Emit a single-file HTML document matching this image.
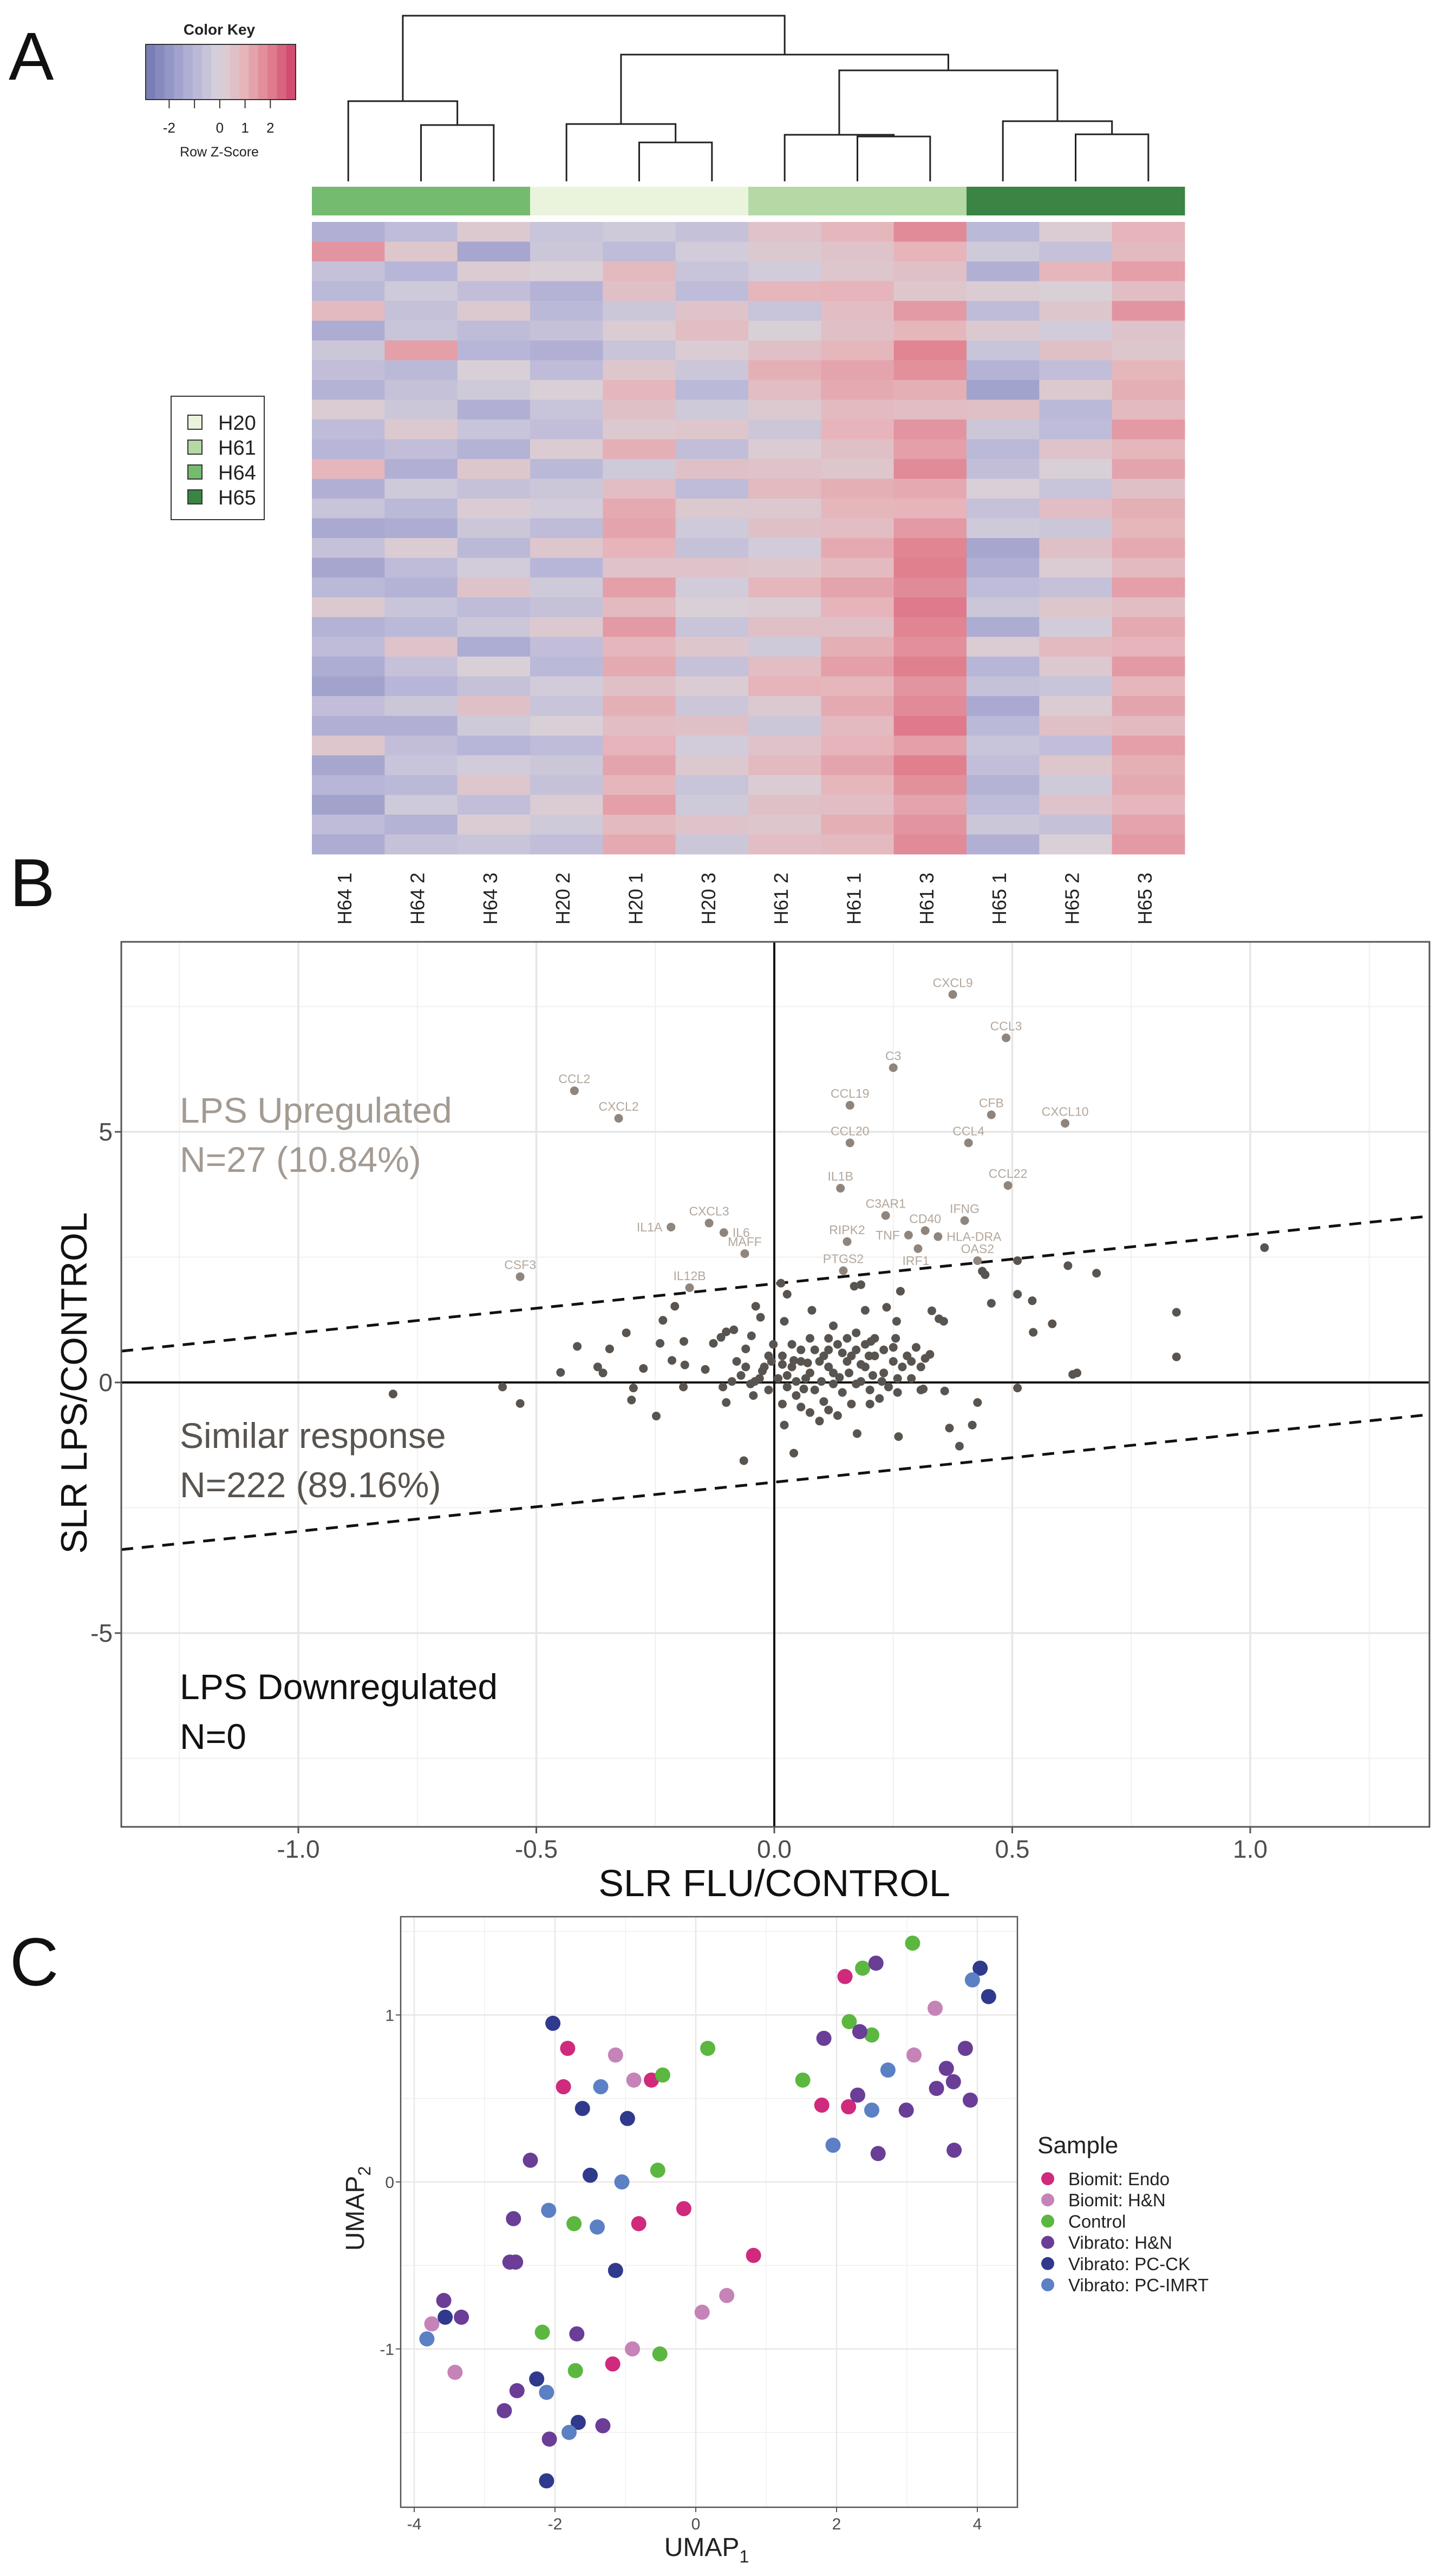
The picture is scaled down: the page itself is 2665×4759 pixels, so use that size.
<!DOCTYPE html>
<html><head><meta charset="utf-8"><title>Figure</title>
<style>
html,body{margin:0;padding:0;background:#fff;}
svg{display:block;font-family:"Liberation Sans",Arial,sans-serif;}
</style></head>
<body>
<svg id="fig" xmlns="http://www.w3.org/2000/svg" width="2665" height="4759" viewBox="0 0 2665 4759">
<rect x="0" y="0" width="2665" height="4759" fill="#fff"/>
<text x="16" y="147" font-size="125" fill="#111">A</text>
<text x="18" y="1674" font-size="125" fill="#111">B</text>
<text x="18" y="3668" font-size="125" fill="#111">C</text>
<g id="pa"></g>
<g id="pb"></g>
<g id="pc"></g>
</svg>
<script>
// ---------- Panel A data ----------
const sampleNames = ["H64 1","H64 2","H64 3","H20 2","H20 1","H20 3","H61 2","H61 1","H61 3","H65 1","H65 2","H65 3"];
const sampleGroups = ["H64","H64","H64","H20","H20","H20","H61","H61","H61","H65","H65","H65"];
const groupNames = ["H20","H61","H64","H65"];
const groupColors = {"H20":"#eaf4dd","H61":"#b4d9a5","H64":"#74bb70","H65":"#3a8444"};
// merges: [childA, childB, height]; leaves 0..11, merges referenced as 12+index
const merges = [[1,2,3.4],[0,12,4.84],[4,5,2.35],[3,14,3.46],[7,8,2.71],[6,16,2.81],[10,11,2.84],[9,18,3.63],[17,19,6.7],[15,20,7.65],[13,21,10]];
const keyTicks = [-2,-1,0,1,2];
const keyTickLabels = ["-2","","0","1","2"];
const zrows = [
[-1.2,-0.8,0.3,-0.5,-0.3,-0.6,0.5,0.9,1.8,-0.9,0.2,1.0],
[1.6,0.4,-1.5,-0.4,-0.8,-0.2,0.3,0.5,1.0,-0.3,-0.6,0.8],
[-0.6,-1.0,0.2,0.1,0.8,-0.5,-0.2,0.4,0.6,-1.2,0.9,1.4],
[-0.9,-0.3,-0.7,-1.1,0.6,-0.8,0.9,1.0,0.4,0.2,0.1,0.7],
[0.8,-0.6,0.3,-0.9,-0.4,0.5,-0.5,0.7,1.5,-0.8,0.4,1.6],
[-1.3,-0.5,-0.8,-0.6,0.2,0.7,0.1,0.6,0.9,0.3,-0.2,0.5],
[-0.4,1.4,-1.0,-1.2,-0.5,0.2,0.6,0.9,1.9,-0.5,0.6,0.4],
[-0.7,-0.9,0.1,-0.8,0.4,-0.4,1.1,1.3,1.7,-1.1,-0.7,0.9],
[-1.1,-0.6,-0.3,0.1,0.9,-0.9,0.7,1.2,1.1,-1.6,0.3,1.1],
[0.2,-0.4,-1.2,-0.5,0.6,-0.3,0.3,0.8,0.7,0.6,-0.9,0.8],
[-0.8,0.3,-0.5,-0.7,0.3,0.4,-0.4,1.0,1.6,-0.4,-0.8,1.5],
[-1.0,-0.7,-1.1,0.2,1.1,-0.7,0.2,0.6,1.4,-0.9,0.5,0.9],
[0.9,-1.2,0.4,-0.9,-0.3,0.6,0.5,0.4,1.8,-0.7,0.1,1.3],
[-1.2,-0.3,-0.6,-0.4,0.7,-0.8,0.8,1.1,1.2,0.1,-0.5,0.6],
[-0.5,-0.9,0.2,-0.2,1.2,0.3,0.3,0.9,1.0,-0.6,0.7,1.1],
[-1.4,-1.3,-0.4,-0.8,1.3,-0.3,0.6,0.7,1.5,-0.3,-0.4,0.9],
[-0.6,0.2,-0.9,0.4,1.0,-0.6,-0.2,1.2,1.9,-1.5,0.6,1.2],
[-1.5,-0.8,-0.2,-1.0,0.5,0.5,0.4,0.8,2.0,-1.2,0.2,0.8],
[-0.9,-1.1,0.5,-0.3,1.4,-0.2,0.9,1.3,1.8,-0.8,-0.6,1.4],
[0.3,-0.5,-0.8,-0.6,0.8,0.1,0.2,1.0,2.1,-0.4,0.4,0.7],
[-1.1,-0.9,-0.4,0.3,1.5,-0.5,0.6,0.6,1.9,-1.3,-0.2,1.2],
[-0.8,0.5,-1.3,-0.7,0.9,0.4,-0.3,1.1,1.7,0.2,0.8,1.0],
[-1.3,-0.6,0.1,-0.9,1.2,-0.6,0.7,1.4,2.0,-1.0,0.3,1.5],
[-1.6,-1.0,-0.6,-0.2,0.6,0.2,1.0,0.9,1.6,-0.6,-0.5,0.9],
[-0.7,-0.4,0.6,-0.5,1.1,-0.4,0.3,1.2,1.8,-1.4,0.2,1.3],
[-1.2,-1.2,-0.3,0.1,0.7,0.6,-0.4,0.8,2.1,-0.9,0.6,0.8],
[0.4,-0.7,-1.0,-0.8,1.0,-0.2,0.5,1.0,1.4,-0.5,-0.7,1.4],
[-1.5,-0.5,-0.2,-0.4,1.3,0.3,0.8,1.3,2.0,-0.7,0.4,1.1],
[-1.0,-0.9,0.4,-0.6,0.9,-0.5,0.2,0.9,1.7,-1.1,-0.3,1.2],
[-1.6,-0.3,-0.7,0.2,1.4,-0.3,0.6,0.7,1.3,-0.8,0.5,0.9],
[-0.8,-1.1,0.2,-0.3,0.8,0.5,0.4,1.1,1.6,-0.4,-0.6,1.3],
[-1.3,-0.6,-0.5,-0.7,1.2,-0.4,0.7,0.8,1.8,-1.2,0.1,1.5]
];

// ---------- Panel B data ----------
const geneNames = ["CXCL9","CCL3","C3","CCL2","CXCL2","CCL19","CFB","CXCL10","CCL20","CCL4","IL1B","CCL22","C3AR1","IFNG","CXCL3","IL1A","IL6","CD40","RIPK2","TNF","HLA-DRA","MAFF","IRF1","OAS2","PTGS2","CSF3","IL12B"];
const geneFlu = [0.375,0.487,0.25,-0.42,-0.327,0.159,0.456,0.611,0.159,0.408,0.139,0.491,0.234,0.40,-0.137,-0.217,-0.106,0.317,0.153,0.282,0.344,-0.062,0.302,0.427,0.145,-0.534,-0.178];
const geneLps = [7.74,6.875,6.28,5.82,5.27,5.53,5.34,5.17,4.78,4.78,3.875,3.93,3.33,3.23,3.18,3.10,2.99,3.03,2.81,2.94,2.91,2.57,2.67,2.43,2.23,2.11,1.89];
const geneLabelSide = ["a","a","a","a","a","a","a","a","a","a","a","a","a","a","a","l","r","a","a","l","r","a","b","a","a","a","a"];
const otherFlu = [1.03,0.845,0.845,0.677,0.617,0.511,0.443,0.437,0.511,0.542,0.584,0.544,0.456,0.627,0.636,0.511,0.427,0.416,0.368,0.389,0.261,0.358,0.313,0.327,0.346,0.356,0.331,0.265,0.236,0.257,0.255,0.191,0.203,0.182,0.168,0.079,0.124,0.174,0.041,0.021,-0.064,-0.248,-0.300,-0.296,-0.275,-0.311,-0.234,-0.209,-0.240,-0.190,-0.346,-0.414,-0.449,-0.371,-0.360,-0.571,-0.534,-0.801,-0.039,-0.029,0.027,0.021,0.014,-0.101,-0.085,-0.060,-0.128,-0.112,-0.048,-0.188,-0.145,-0.215,-0.191,-0.101,-0.044,
0.017,0.037,0.056,0.075,0.085,0.104,0.114,0.133,0.153,0.172,0.191,0.211,0.230,0.250,0.269,0.288,0.008,0.027,0.046,0.066,0.085,0.104,0.124,0.143,0.162,0.182,0.201,0.221,0.240,0.259,-0.021,-0.031,-0.050,-0.070,-0.089,-0.108,-0.079,-0.060,-0.012,-0.002,0.037,0.056,0.095,0.114,0.153,0.172,0.191,0.211,0.230,0.250,0.075,0.095,0.056,0.114,0.133,0.201,0.308,0.317,0.279,0.298,0.075,0.046,0.017,-0.012,-0.041,0.027,0.017,-0.025,-0.006,0.207,0.226,0.137,0.157,0.172,0.124,0.099,0.062,0.041,0.199,0.259,0.288,0.308,0.162,0.182,0.143,0.070,0.114];
const otherLps = [2.69,1.40,0.51,2.18,2.33,2.43,2.15,2.22,1.76,1.63,1.17,1.00,1.58,0.16,0.19,-0.11,-0.40,-0.85,-0.91,-1.27,-1.08,-0.17,-0.13,0.56,1.27,1.22,1.43,1.82,1.50,1.22,0.88,1.44,0.82,1.95,1.92,1.44,1.13,-1.02,-1.41,-0.85,-1.56,-0.67,-0.35,-0.11,0.28,0.99,1.24,1.52,0.78,0.82,0.67,0.72,0.20,0.31,0.19,-0.09,-0.42,-0.23,1.52,1.30,1.76,1.22,1.98,1.01,1.05,0.67,0.78,0.90,0.93,0.35,0.26,0.44,-0.09,-0.40,-0.26,
0.53,0.31,0.42,0.88,0.65,0.53,0.31,0.76,0.42,0.65,0.31,0.53,0.19,0.42,0.31,0.08,0.08,-0.09,-0.26,0.08,-0.15,-0.38,-0.03,-0.20,-0.43,0.02,-0.15,-0.32,-0.09,-0.20,0.31,0.08,-0.03,0.14,0.02,-0.09,0.42,0.31,0.53,0.76,0.76,0.65,0.42,0.88,0.88,0.99,0.76,0.88,0.65,0.70,-0.60,-0.77,-0.49,-0.55,-0.66,-0.43,0.31,0.48,0.53,0.70,0.19,0.02,-0.43,-0.15,0.02,0.14,0.36,0.23,0.42,0.14,0.02,0.10,0.19,-0.03,0.19,0.02,-0.13,0.44,0.53,0.08,0.42,-0.15,0.53,0.36,0.59,0.39,0.65];
const bandIntercepts = [1.97,-1.99];
const bandSlope = 0.98;
const bxTicks = [-1.0,-0.5,0.0,0.5,1.0];
const bxTickLabels = ["-1.0","-0.5","0.0","0.5","1.0"];
const bxMinor = [-1.25,-0.75,-0.25,0.25,0.75,1.25];
const byTicks = [5,0,-5];
const byTickLabels = ["5","0","-5"];
const byMinor = [7.5,2.5,-2.5,-7.5];

// ---------- Panel C data ----------
const umapGroups = ["Biomit: Endo","Biomit: H&N","Control","Vibrato: H&N","Vibrato: PC-CK","Vibrato: PC-IMRT"];
const umapColors = ["#cf2a7c","#c683b8","#5bb740","#6a3d96","#2f3a8c","#5b80c4"];
const endoX = [2.12,-1.82,-1.88,-0.63,1.79,2.17,-0.17,-0.81,0.82,-1.18];
const endoY = [1.23,0.80,0.57,0.61,0.46,0.45,-0.16,-0.25,-0.44,-1.09];
const bhnX = [3.40,3.10,-1.14,-0.88,0.44,0.09,-3.75,-0.90,-3.42];
const bhnY = [1.04,0.76,0.76,0.61,-0.68,-0.78,-0.85,-1.00,-1.14];
const ctrlX = [3.08,2.37,2.18,2.50,0.17,-0.47,1.52,-0.54,-1.73,-2.18,-1.71,-0.51];
const ctrlY = [1.43,1.28,0.96,0.88,0.80,0.64,0.61,0.07,-0.25,-0.90,-1.13,-1.03];
const vhnX = [2.56,1.82,2.33,3.83,3.56,3.66,3.42,2.30,2.99,3.90,2.59,3.67,-2.35,-2.59,-2.64,-2.56,-3.58,-3.33,-1.69,-2.54,-2.72,-2.08,-1.32];
const vhnY = [1.31,0.86,0.90,0.80,0.68,0.60,0.56,0.52,0.43,0.49,0.17,0.19,0.13,-0.22,-0.48,-0.48,-0.71,-0.81,-0.91,-1.25,-1.37,-1.54,-1.46];
const pcckX = [4.04,4.16,-2.03,-1.61,-0.97,-1.50,-1.14,-3.56,-2.26,-1.67,-2.12];
const pcckY = [1.28,1.11,0.95,0.44,0.38,0.04,-0.53,-0.81,-1.18,-1.44,-1.79];
const imrtX = [3.93,2.73,2.50,1.95,-1.35,-1.05,-2.09,-1.40,-3.82,-2.12,-1.80];
const imrtY = [1.21,0.67,0.43,0.22,0.57,0.00,-0.17,-0.27,-0.94,-1.26,-1.50];
const cxTicks = [-4,-2,0,2,4];
const cxTickLabels = ["-4","-2","0","2","4"];
const cxMinor = [-3,-1,1,3];
const cyTicks = [1,0,-1];
const cyTickLabels = ["1","0","-1"];
const cyMinor = [1.5,0.5,-0.5,-1.5];

// ---------- helpers ----------
const NS = "http://www.w3.org/2000/svg";
function mk(tag, attrs, parent){
  const e = document.createElementNS(NS, tag);
  for (const k in attrs) e.setAttribute(k, attrs[k]);
  parent.appendChild(e);
  return e;
}
function lerp(a,b,t){return a+(b-a)*t;}
const zStops = [[-3,[112,118,176]],[-2,[148,150,198]],[-1,[184,182,216]],[0,[216,210,218]],[1,[230,180,186]],[2,[224,128,143]],[3,[208,64,106]]];
function zColor(v){
  v = Math.max(-3, Math.min(3, v));
  for (let i=0;i<zStops.length-1;i++){
    const a=zStops[i], b=zStops[i+1];
    if (v<=b[0]){
      const t=(v-a[0])/(b[0]-a[0]);
      return "rgb("+[0,1,2].map(j=>Math.round(lerp(a[1][j],b[1][j],t))).join(",")+")";
    }
  }
  return "rgb(208,64,106)";
}

// ---------- Panel A ----------
(function(){
  const g = document.getElementById("pa");
  const hx0=576, hx1=2188, hy0=410, hy1=1578;
  const colW=(hx1-hx0)/sampleNames.length;
  const colX = i => hx0 + colW*(i+0.5);
  // heatmap cells
  const rowH=(hy1-hy0)/zrows.length;
  zrows.forEach((row,r)=>{
    row.forEach((v,c)=>{
      const cell = mk("rect",{x:hx0+c*colW, y:hy0+r*rowH, width:colW+0.5, height:rowH+0.5, fill:zColor(v)}, g);
      
      
    });
  });
  // group color bar
  sampleGroups.forEach((gr,c)=>{
    const b = mk("rect",{x:hx0+c*colW, y:345, width:colW+0.5, height:53, fill:groupColors[gr]}, g);
    
    
  });
  // dendrogram
  const leafY=335, topY=29, maxH=10;
  const hY = h => leafY - h/maxH*(leafY-topY);
  const nodeX=[], nodeY=[];
  for (let i=0;i<sampleNames.length;i++){nodeX.push(colX(i)); nodeY.push(leafY);}
  merges.forEach(m=>{
    const a=m[0], b=m[1], y=hY(m[2]);
    const p = mk("path",{d:"M"+nodeX[a]+","+nodeY[a]+"V"+y+"H"+nodeX[b]+"V"+nodeY[b], fill:"none", stroke:"#222", "stroke-width":3}, g);
    
    
    nodeX.push((nodeX[a]+nodeX[b])/2); nodeY.push(y);
  });
  // column labels
  sampleNames.forEach((n,i)=>{
    const x=colX(i)+6, y=1612;
    const t = mk("text",{x:x, y:y, transform:"rotate(-90 "+x+" "+y+")", "text-anchor":"end", "font-size":36, fill:"#222"}, g);
    t.textContent=n;
    
    
  });
  // color key
  const kx0=269, kx1=546, ky0=82, ky1=184, kz0=-2.93, kz1=3.0;
  const kxs = v => kx0 + (v-kz0)/(kz1-kz0)*(kx1-kx0);
  const nb=16;
  for (let i=0;i<nb;i++){
    const v0=kz0+(kz1-kz0)*i/nb, v1=kz0+(kz1-kz0)*(i+1)/nb;
    const r = mk("rect",{x:kxs(v0), y:ky0, width:kxs(v1)-kxs(v0)+0.5, height:ky1-ky0, fill:zColor((v0+v1)/2)}, g);
    
    
  }
  const kb = mk("rect",{x:kx0, y:ky0, width:kx1-kx0, height:ky1-ky0, fill:"none", stroke:"#333", "stroke-width":2}, g);
  
  
  keyTicks.forEach((v,i)=>{
    const l = mk("line",{x1:kxs(v), x2:kxs(v), y1:ky1, y2:ky1+16, stroke:"#333", "stroke-width":2}, g);
    
    
    if (keyTickLabels[i]){
      const t = mk("text",{x:kxs(v), y:245, "text-anchor":"middle", "font-size":26, fill:"#222"}, g);
      t.textContent=keyTickLabels[i];
      
      
    }
  });
  const kt = mk("text",{x:405, y:64, "text-anchor":"middle", "font-size":28, "font-weight":"bold", fill:"#222"}, g);
  kt.textContent="Color Key";
  
  
  const kl = mk("text",{x:405, y:289, "text-anchor":"middle", "font-size":25, fill:"#222"}, g);
  kl.textContent="Row Z-Score";
  
  
  // group legend
  const lb = mk("rect",{x:316, y:732, width:172, height:228, fill:"#fff", stroke:"#333", "stroke-width":2}, g);
  
  
  groupNames.forEach((n,i)=>{
    const cy = 780 + i*46;
    const s = mk("rect",{x:347, y:cy-13, width:26, height:26, fill:groupColors[n], stroke:"#333", "stroke-width":2}, g);
    
    
    const t = mk("text",{x:403, y:cy+14, "font-size":38, fill:"#222"}, g);
    t.textContent=n;
    
    
  });
})();

// ---------- Panel B ----------
(function(){
  const g = document.getElementById("pb");
  const L=224, R=2640, T=1740, B=3375;
  const xs = v => 1430 + v*879;
  const ys = v => 2554 - v*92.6;
  const bg = mk("rect",{x:L,y:T,width:R-L,height:B-T,fill:"#fff"}, g);
  
  
  bxMinor.forEach(v=>{const l=mk("line",{x1:xs(v),x2:xs(v),y1:T,y2:B,stroke:"#f0f0f0","stroke-width":2},g);
     });
  byMinor.forEach(v=>{const l=mk("line",{x1:L,x2:R,y1:ys(v),y2:ys(v),stroke:"#f0f0f0","stroke-width":2},g);
     });
  bxTicks.forEach(v=>{const l=mk("line",{x1:xs(v),x2:xs(v),y1:T,y2:B,stroke:"#e6e6e6","stroke-width":3.5},g);
     });
  byTicks.forEach(v=>{const l=mk("line",{x1:L,x2:R,y1:ys(v),y2:ys(v),stroke:"#e6e6e6","stroke-width":3.5},g);
     });
  // zero axes
  const ax = mk("line",{x1:xs(0),x2:xs(0),y1:T,y2:B,stroke:"#111","stroke-width":4},g);
   
  const ay = mk("line",{x1:L,x2:R,y1:ys(0),y2:ys(0),stroke:"#111","stroke-width":4},g);
   
  // band lines
  const xl=(L-1430)/879, xr=(R-1430)/879;
  bandIntercepts.forEach(b=>{
    const l = mk("line",{x1:L,y1:ys(b+bandSlope*xl),x2:R,y2:ys(b+bandSlope*xr),stroke:"#111","stroke-width":5,"stroke-dasharray":"22 16"},g);
    
    
  });
  // points
  otherFlu.forEach((v,i)=>{
    const c = mk("circle",{cx:xs(v),cy:ys(otherLps[i]),r:8,fill:"#59544f"},g);
    
    
  });
  geneFlu.forEach((v,i)=>{
    const cx=xs(v), cy=ys(geneLps[i]);
    const c = mk("circle",{cx:cx,cy:cy,r:8,fill:"#8f857c"},g);
    
    
    const side=geneLabelSide[i];
    let tx=cx, ty=cy-14, anc="middle";
    if (side==="l"){tx=cx-16; ty=cy+8; anc="end";}
    if (side==="r"){tx=cx+16; ty=cy+8; anc="start";}
    if (side==="b"){tx=cx-4; ty=cy+30;}
    const t = mk("text",{x:tx,y:ty,"text-anchor":anc,"font-size":23,fill:"#b3a79c"},g);
    t.textContent=geneNames[i];
    
    
  });
  // annotations
  const ann=[["LPS Upregulated",2074,"#a39a92","annotation-upregulated"],["N=27 (10.84%)",2165,"#a39a92","annotation-upregulated-count"],
    ["Similar response",2675,"#59544f","annotation-similar"],["N=222 (89.16%)",2766,"#59544f","annotation-similar-count"],
    ["LPS Downregulated",3139,"#111","annotation-downregulated"],["N=0",3231,"#111","annotation-downregulated-count"]];
  ann.forEach(a=>{
    const t = mk("text",{x:332,y:a[1],"font-size":66,fill:a[2]},g);
    t.textContent=a[0];
    
    
  });
  const fr = mk("rect",{x:L,y:T,width:R-L,height:B-T,fill:"none",stroke:"#555","stroke-width":3},g);
   
  bxTicks.forEach((v,i)=>{
    const l=mk("line",{x1:xs(v),x2:xs(v),y1:B,y2:B+12,stroke:"#555","stroke-width":3},g);
     
    const t=mk("text",{x:xs(v),y:3432,"text-anchor":"middle","font-size":46,fill:"#4d4d4d"},g);
    t.textContent=bxTickLabels[i];
     
  });
  byTicks.forEach((v,i)=>{
    const l=mk("line",{x1:L-12,x2:L,y1:ys(v),y2:ys(v),stroke:"#555","stroke-width":3},g);
     
    const t=mk("text",{x:L-16,y:ys(v)+16,"text-anchor":"end","font-size":46,fill:"#4d4d4d"},g);
    t.textContent=byTickLabels[i];
     
  });
  const xt=mk("text",{x:1430,y:3503,"text-anchor":"middle","font-size":70,fill:"#111"},g);
  xt.textContent="SLR FLU/CONTROL";
   
  const yt=mk("text",{x:160,y:2555,"text-anchor":"middle","font-size":68,fill:"#111",transform:"rotate(-90 160 2555)"},g);
  yt.textContent="SLR LPS/CONTROL";
   
})();

// ---------- Panel C ----------
(function(){
  const g = document.getElementById("pc");
  const L=740, R=1879, T=3541, B=4632;
  const xs = v => 1285 + v*130;
  const ys = v => 4031 - v*308.5;
  cxMinor.forEach(v=>{const l=mk("line",{x1:xs(v),x2:xs(v),y1:T,y2:B,stroke:"#f2f0f0","stroke-width":1.5},g);
     });
  cyMinor.forEach(v=>{const l=mk("line",{x1:L,x2:R,y1:ys(v),y2:ys(v),stroke:"#f2eeee","stroke-width":1.5},g);
     });
  cxTicks.forEach(v=>{const l=mk("line",{x1:xs(v),x2:xs(v),y1:T,y2:B,stroke:"#e8e8e8","stroke-width":2.5},g);
     });
  cyTicks.forEach(v=>{const l=mk("line",{x1:L,x2:R,y1:ys(v),y2:ys(v),stroke:"#ece6e6","stroke-width":2.5},g);
     });
  const sets=[[endoX,endoY],[bhnX,bhnY],[ctrlX,ctrlY],[vhnX,vhnY],[pcckX,pcckY],[imrtX,imrtY]];
  sets.forEach((s,k)=>{
    s[0].forEach((v,i)=>{
      const c=mk("circle",{cx:xs(v),cy:ys(s[1][i]),r:14,fill:umapColors[k]},g);
      
      
    });
  });
  const fr=mk("rect",{x:L,y:T,width:R-L,height:B-T,fill:"none",stroke:"#555","stroke-width":2.5},g);
   
  cxTicks.forEach((v,i)=>{
    const l=mk("line",{x1:xs(v),x2:xs(v),y1:B,y2:B+9,stroke:"#555","stroke-width":2},g);
     
    const t=mk("text",{x:xs(v),y:4673,"text-anchor":"middle","font-size":30,fill:"#4d4d4d"},g);
    t.textContent=cxTickLabels[i];
     
  });
  cyTicks.forEach((v,i)=>{
    const l=mk("line",{x1:L-9,x2:L,y1:ys(v),y2:ys(v),stroke:"#555","stroke-width":2},g);
     
    const t=mk("text",{x:L-12,y:ys(v)+11,"text-anchor":"end","font-size":30,fill:"#4d4d4d"},g);
    t.textContent=cyTickLabels[i];
     
  });
  const xt=mk("text",{x:1305,y:4722,"text-anchor":"middle","font-size":48,fill:"#222"},g);
   
  xt.innerHTML='UMAP<tspan font-size="32" dy="12">1</tspan>';
  const yt=mk("text",{x:672,y:4080,"text-anchor":"middle","font-size":48,fill:"#222",transform:"rotate(-90 672 4080)"},g);
   
  yt.innerHTML='UMAP<tspan font-size="32" dy="12">2</tspan>';
  const lt=mk("text",{x:1916,y:3978,"font-size":44,fill:"#222"},g);
  lt.textContent="Sample";
   
  umapGroups.forEach((n,i)=>{
    const cy=4025+i*39.2;
    const c=mk("circle",{cx:1935,cy:cy,r:12,fill:umapColors[i]},g);
     
    const t=mk("text",{x:1973,y:cy+12,"font-size":33,fill:"#222"},g);
    t.textContent=n;
     
  });
})();
</script>
</body></html>
